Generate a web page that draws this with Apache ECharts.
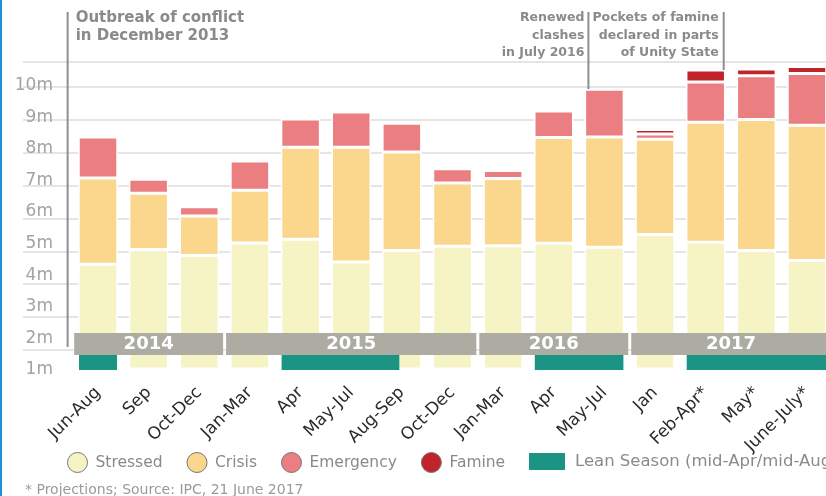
<!DOCTYPE html>
<html>
<head>
<meta charset="utf-8">
<script src="https://cdn.jsdelivr.net/npm/echarts@6/dist/echarts.min.js"></script>
<style>
  html, body { margin: 0; padding: 0; background: #fff; }
  #chart { width: 826px; height: 496px; }
</style>
</head>
<body>
<div id="chart"></div>
<script>
// ---- data ----
const categories = ['Jun-Aug', 'Sep', 'Oct-Dec', 'Jan-Mar', 'Apr', 'May-Jul', 'Aug-Sep', 'Oct-Dec',
  'Jan-Mar', 'Apr', 'May-Jul', 'Jan', 'Feb-Apr*', 'May*', 'June-July*'];
const stressed  = [3.22, 3.68, 3.49, 3.88, 3.99, 3.29, 3.65, 3.78, 3.79, 3.87, 3.75, 4.14, 3.90, 3.65, 3.34];
const crisis    = [2.66, 1.73, 1.22, 1.62, 2.83, 3.53, 3.03, 1.94, 2.07, 3.25, 3.39, 2.93, 3.69, 4.03, 4.16];
const emergency = [1.26, 0.43, 0.28, 0.90, 0.87, 1.09, 0.88, 0.44, 0.25, 0.82, 1.47, 0.16, 1.24, 1.34, 1.59];
const famine    = [null, null, null, null, null, null, null, null, null, null, null, 0.14, 0.37, 0.21, 0.22];
const yLabels   = ['1m', '2m', '3m', '4m', '5m', '6m', '7m', '8m', '9m', '10m'];
const years     = ['2014', '2015', '2016', '2017'];
const yearFirst = [0, 3, 8, 11];
const yearLast  = [2, 7, 10, 14];
const leanStart = [-0.375, 3.625, 8.625, 11.625];
const leanEnd   = [0.375, 5.95, 10.375, 14.6];

const FONT = '"DejaVu Sans", Verdana, sans-serif';
const BAR_W = 39.5;
const chart = echarts.init(document.getElementById('chart'), null, { renderer: 'canvas' });

const yearData = years.map((y, i) => [yearFirst[i] - 0.5, yearLast[i] + 0.5]);
const leanData = leanStart.map((s, i) => [s, leanEnd[i]]);

const option = {
  animation: false,
  backgroundColor: '#fff',
  textStyle: { fontFamily: FONT },
  grid: [
    { left: 72.7, width: 759.6, top: 44, height: 325, containLabel: false, outerBoundsMode: 'none' },
    { left: 23, right: 0, top: 62, bottom: 146, containLabel: false, outerBoundsMode: 'none' },
    { left: 61, width: 1, top: 85.6, height: 316, containLabel: false, outerBoundsMode: 'none' }
  ],
  xAxis: [
    { type: 'category', gridIndex: 0, data: categories,
      axisLine: { show: false }, axisTick: { show: false },
      axisLabel: { interval: 0, rotate: 45, margin: 21, fontSize: 17, color: '#2a2a2a', fontFamily: FONT } },
    { type: 'value', gridIndex: 0, min: -0.5, max: 14.5, show: false },
    { type: 'value', gridIndex: 1, show: false },
    { type: 'value', gridIndex: 2, show: false }
  ],
  yAxis: [
    { type: 'value', gridIndex: 0, min: 0, max: 10, show: false },
    { type: 'value', gridIndex: 1, min: 0, max: 8.76, interval: 1,
      axisLine: { show: false }, axisTick: { show: false }, axisLabel: { show: false },
      splitLine: { show: true, lineStyle: { color: '#dcdcdc', width: 1.5 } } },
    { type: 'value', gridIndex: 2, min: 0, max: 10, interval: 1,
      axisLine: { show: false }, axisTick: { show: false }, splitLine: { show: false },
      axisLabel: { margin: 8, fontSize: 17, color: '#a3a3a3', fontFamily: FONT,
        formatter: v => (v >= 1 ? yLabels[Math.round(v) - 1] : '') } }
  ],
  legend: [
    { left: 67, top: 452, padding: 0, itemWidth: 20, itemHeight: 20, itemGap: 24, icon: 'circle',
      itemStyle: { borderColor: '#777', borderWidth: 1 },
      textStyle: { fontSize: 15.5, color: '#8a8a8a', fontFamily: FONT, padding: [0, 0, 0, 3] },
      data: ['Stressed', 'Crisis', 'Emergency', 'Famine'] },
    { left: 529, top: 453, padding: 0, itemWidth: 36, itemHeight: 17, icon: 'rect',
      textStyle: { fontSize: 16.5, color: '#8a8a8a', fontFamily: FONT, padding: [0, 0, 0, 5] },
      data: ['Lean Season (mid-Apr/mid-Aug)'] }
  ],
  series: [
    { name: 'Stressed', type: 'bar', stack: 'ipc', barWidth: BAR_W, data: stressed,
      itemStyle: { color: '#f6f3c5', borderColor: '#fff', borderWidth: 1.5 } },
    { name: 'Crisis', type: 'bar', stack: 'ipc', barWidth: BAR_W, data: crisis,
      itemStyle: { color: '#fbd68d', borderColor: '#fff', borderWidth: 1.5 } },
    { name: 'Emergency', type: 'bar', stack: 'ipc', barWidth: BAR_W, data: emergency,
      itemStyle: { color: '#ea7e80', borderColor: '#fff', borderWidth: 1.5 } },
    { name: 'Famine', type: 'bar', stack: 'ipc', barWidth: BAR_W, data: famine,
      itemStyle: { color: '#c1232a', borderColor: '#fff', borderWidth: 1.5 } },
    { name: 'Years', type: 'custom', xAxisIndex: 1, yAxisIndex: 0, z: 5, data: yearData,
      encode: { x: [0, 1] }, silent: true,
      renderItem: (params, api) => {
        const p0 = api.coord([api.value(0), 0]);
        const p1 = api.coord([api.value(1), 0]);
        const x0 = p0[0] + 1.5, x1 = p1[0] - 1.5;
        return { type: 'group', children: [
          { type: 'rect', shape: { x: x0, y: p0[1] - 36, width: x1 - x0, height: 22 },
            style: { fill: '#adaca2' } },
          { type: 'text', style: { text: years[params.dataIndex], x: (x0 + x1) / 2, y: p0[1] - 25,
              align: 'center', verticalAlign: 'middle', fill: '#fff',
              font: 'bold 18px ' + FONT } }
        ] };
      } },
    { name: 'Lean Season (mid-Apr/mid-Aug)', type: 'custom', xAxisIndex: 1, yAxisIndex: 0, z: 6,
      data: leanData, encode: { x: [0, 1] }, itemStyle: { color: '#1b9483' },
      renderItem: (params, api) => {
        const p0 = api.coord([api.value(0), 0]);
        const p1 = api.coord([api.value(1), 0]);
        return { type: 'rect', shape: { x: p0[0], y: p0[1] - 14, width: p1[0] - p0[0], height: 15 },
          style: { fill: '#1b9483' } };
      } }
  ]
};
chart.setOption(option);

// ---- annotations anchored to the bars ----
const px = (i, v) => chart.convertToPixel({ xAxisIndex: 0, yAxisIndex: 0 }, [i, v]);
const total = i => (stressed[i] || 0) + (crisis[i] || 0) + (emergency[i] || 0) + (famine[i] || 0);
const bw = px(1, 0)[0] - px(0, 0)[0];
const xOut = px(0, 0)[0] - 0.6 * bw;
const xRen = px(10, 0)[0] - 38 / 2 + 3;
const xPoc = px(12, 0)[0] + 38 / 2 - 1;
const lineStyle = { stroke: '#8f8f8f', lineWidth: 2 };
const annFont = 'bold 15px ' + FONT;
const annFont2 = 'bold 12.5px ' + FONT;
chart.setOption({
  graphic: [
    { type: 'rect', shape: { x: 0, y: 0, width: 2, height: 496 }, style: { fill: '#1f8fd8' }, silent: true },
    { type: 'line', shape: { x1: xOut, y1: 12, x2: xOut, y2: px(0, 0)[1] - 22 }, style: lineStyle, silent: true },
    { type: 'line', shape: { x1: xRen, y1: 12, x2: xRen, y2: px(10, total(10))[1] }, style: lineStyle, silent: true },
    { type: 'line', shape: { x1: xPoc, y1: 12, x2: xPoc, y2: px(12, total(12))[1] }, style: lineStyle, silent: true },
    { type: 'text', x: xOut + 8, y: 9, silent: true,
      style: { text: 'Outbreak of conflict\nin December 2013', font: annFont, fill: '#8a8a8a',
        lineHeight: 18, align: 'left', verticalAlign: 'top' } },
    { type: 'text', x: xRen - 4, y: 9, silent: true,
      style: { text: 'Renewed\nclashes\nin July 2016', font: annFont2, fill: '#8a8a8a',
        lineHeight: 17.5, align: 'right', verticalAlign: 'top' } },
    { type: 'text', x: xPoc - 5, y: 9, silent: true,
      style: { text: 'Pockets of famine\ndeclared in parts\nof Unity State', font: annFont2, fill: '#8a8a8a',
        lineHeight: 17.5, align: 'right', verticalAlign: 'top' } },
    { type: 'text', x: 25, y: 483, silent: true,
      style: { text: '* Projections; Source: IPC, 21 June 2017', font: '14px ' + FONT, fill: '#9a9a9a',
        align: 'left', verticalAlign: 'top' } }
  ]
});
</script>
</body>
</html>
